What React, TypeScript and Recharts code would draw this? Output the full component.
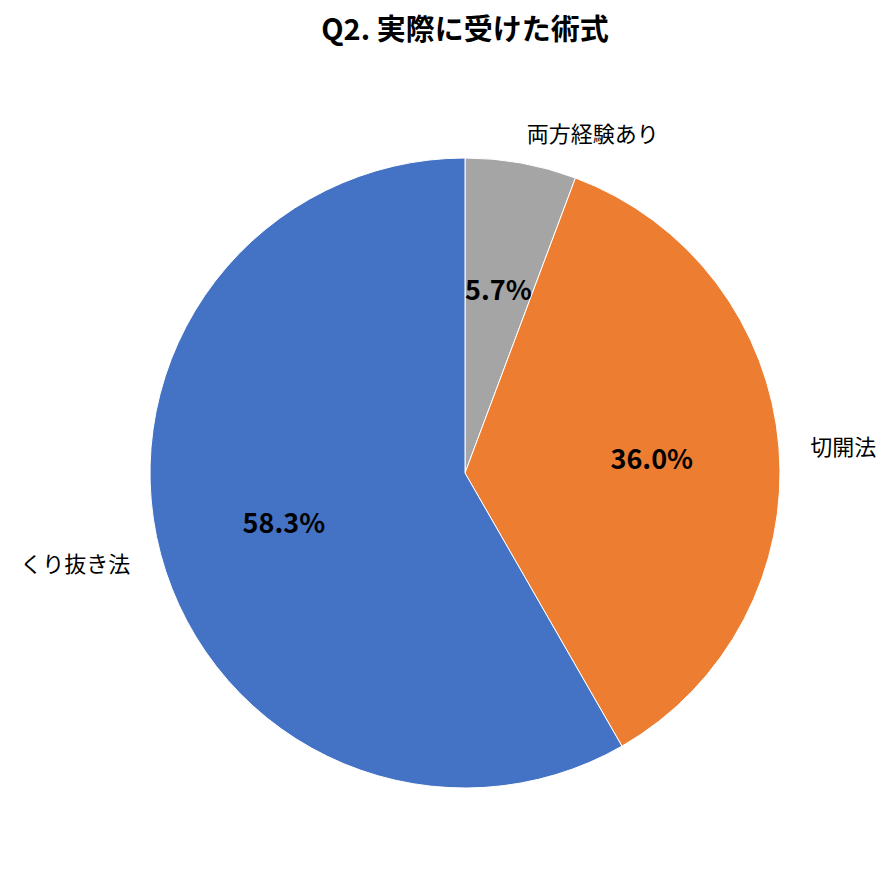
import { Cell, Pie, PieChart } from "recharts";

const categories = ["両方経験あり", "切開法", "くり抜き法"];
const shares = [5.7, 36.0, 58.3];
const colors = ["#A5A5A5", "#ED7D31", "#4472C4"];

const data = categories.map((name, i) => ({ name, value: shares[i] }));

const RAD = Math.PI / 180;
const FONT = "'Noto Sans CJK JP', 'Noto Sans', sans-serif";

function renderLabel(props: any) {
  const { cx, cy, midAngle, outerRadius, index } = props;
  const cos = Math.cos(-midAngle * RAD);
  const sin = Math.sin(-midAngle * RAD);
  const rIn = outerRadius * 0.595;
  const rOut = outerRadius * 1.1;
  const ox = cx + rOut * cos;
  const oy = cy + rOut * sin;
  return (
    <g>
      <text
        x={cx + rIn * cos}
        y={cy + rIn * sin}
        textAnchor="middle"
        dominantBaseline="central"
        fontSize={27}
        fontWeight="bold"
        fill="#000"
        fontFamily={FONT}
      >
        {shares[index].toFixed(1)}%
      </text>
      <text
        x={ox}
        y={oy}
        textAnchor={ox > cx ? "start" : "end"}
        dominantBaseline="central"
        fontSize={22}
        fill="#000"
        fontFamily={FONT}
      >
        {categories[index]}
      </text>
    </g>
  );
}

export default function App() {
  return (
    <div
      style={{
        position: "absolute",
        left: 0,
        top: 0,
        width: 894,
        height: 883,
        background: "#fff",
      }}
    >
      <div
        style={{
          position: "absolute",
          left: 0,
          top: 8,
          width: 930,
          textAlign: "center",
          fontFamily: FONT,
          fontWeight: "bold",
          fontSize: 29,
          lineHeight: "38px",
        }}
      >
        Q2. 実際に受けた術式
      </div>
      <PieChart width={894} height={883} margin={{ top: 0, right: 0, bottom: 0, left: 0 }}>
        <Pie
          data={data}
          dataKey="value"
          nameKey="name"
          cx={465}
          cy={473}
          outerRadius={315}
          startAngle={90}
          endAngle={-270}
          stroke="#fff"
          strokeWidth={1}
          labelLine={false}
          label={renderLabel}
          isAnimationActive={false}
        >
          {data.map((d, i) => (
            <Cell key={d.name} fill={colors[i]} />
          ))}
        </Pie>
      </PieChart>
    </div>
  );
}
